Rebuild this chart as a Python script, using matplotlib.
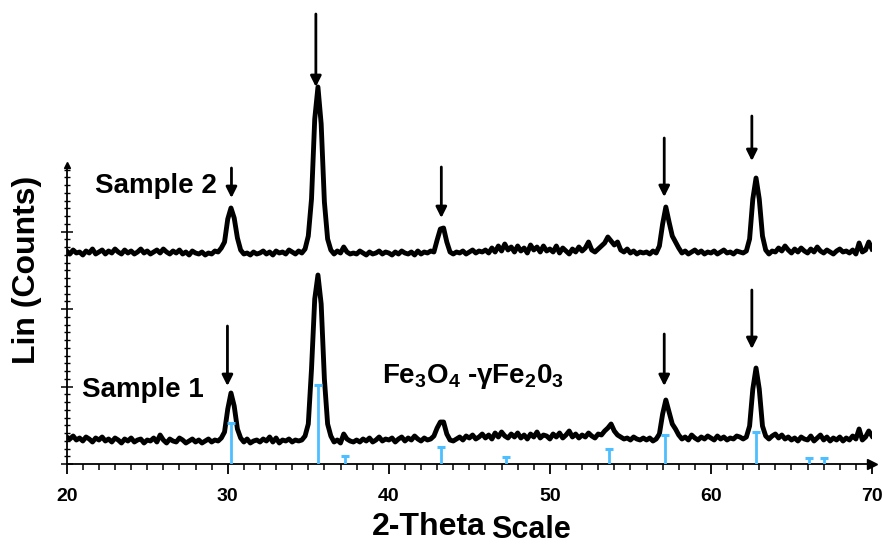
import numpy as np
import matplotlib
matplotlib.use("Agg")
from matplotlib import pyplot as plt

plt.rcParams['font.family'] = ['Liberation Sans', 'DejaVu Sans']
plt.rcParams['font.weight'] = 'bold'
plt.rcParams['mathtext.fontset'] = 'custom'
plt.rcParams['mathtext.rm'] = 'Liberation Sans:bold'
plt.rcParams['mathtext.it'] = 'Liberation Sans:bold'
plt.rcParams['mathtext.bf'] = 'Liberation Sans:bold'

# 2-theta grid, 0.2 deg steps from 20 to 70
two_theta = np.round(np.arange(20.0, 70.001, 0.2), 1)

# sample 1 (lower trace), counts
sample1 = [
    27, 25, 28, 24, 26, 23, 27, 25, 22, 26,
    24, 27, 23, 25, 22, 26, 24, 21, 25, 23,
    26, 22, 24, 25, 21, 24, 23, 26, 22, 29,
    24, 21, 25, 23, 22, 26, 24, 21, 23, 25,
    22, 24, 21, 23, 25, 22, 24, 23, 26, 32,
    55, 71, 58, 35, 26, 22, 25, 21, 23, 24,
    22, 25, 23, 27, 22, 26, 21, 24, 23, 25,
    22, 24, 23, 24, 28, 40, 95, 165, 189, 160,
    85, 40, 28, 22, 24, 21, 30, 25, 23, 22,
    24, 22, 25, 23, 26, 22, 24, 27, 23, 25,
    24, 26, 22, 25, 27, 23, 26, 24, 28, 25,
    23, 26, 24, 25, 28, 36, 42, 42, 30, 24,
    23, 25, 27, 24, 28, 26, 29, 25, 27, 30,
    26, 29, 25, 31, 27, 32, 28, 26, 30, 27,
    31, 26, 29, 25, 30, 27, 32, 26, 29, 28,
    25, 30, 27, 31, 26, 29, 33, 27, 30, 26,
    29, 27, 31, 28, 26, 30, 29, 33, 36, 40,
    33, 29, 27, 25, 26, 24, 27, 25, 24, 26,
    24, 26, 23, 25, 30, 50, 64, 52, 40, 35,
    29, 25, 27, 24, 29, 26, 24, 27, 25, 28,
    26, 24, 28, 25, 27, 24, 26, 25, 28, 27,
    25, 27, 38, 75, 96, 75, 38, 28, 25, 28,
    30, 26, 29, 25, 27, 24, 26, 23, 27, 25,
    24, 28, 23, 26, 29, 24, 27, 23, 26, 24,
    27, 23, 26, 24, 28, 25, 35, 24, 27, 33,
    28,
]

# sample 2 (upper trace), counts
sample2 = [
    213, 210, 214, 211, 212, 209, 213, 211, 215, 210,
    212, 214, 210, 213, 211, 215, 212, 210, 214, 211,
    213, 210, 212, 215, 211, 213, 210, 212, 214, 211,
    215, 212, 210, 213, 211, 214, 210, 212, 209, 213,
    211, 210, 212, 209, 211, 210, 213, 212, 216, 222,
    245, 256, 246, 226, 214, 210, 211, 209, 212, 210,
    211, 213, 210, 212, 209, 213, 211, 212, 210, 214,
    212, 210, 213, 211, 215, 228, 265, 345, 377, 340,
    262, 225, 214, 210, 213, 211, 217, 212, 210, 211,
    210, 213, 211, 209, 212, 210, 211, 213, 210, 212,
    211, 209, 212, 210, 213, 211, 210, 212, 209, 213,
    210, 212, 211, 213, 212, 224, 235, 236, 222, 212,
    210, 212, 211, 213, 210, 212, 214, 211, 213, 212,
    214, 211, 216, 212, 218, 213, 220, 214, 217, 212,
    218, 213, 216, 211, 219, 214, 217, 212, 218, 213,
    215, 212, 218, 211, 216, 213, 210, 215, 212, 217,
    213, 216, 222, 214, 212, 215, 218, 221, 227, 223,
    219, 222, 214, 212, 215, 211, 213, 210, 212, 211,
    212, 210, 213, 211, 218, 240, 257, 242, 228, 222,
    216, 211, 213, 210, 212, 214, 211, 213, 210, 212,
    211, 213, 210, 212, 214, 211, 212, 210, 213, 212,
    211, 213, 225, 265, 286, 265, 228, 214, 210, 213,
    212, 216, 213, 218, 214, 211, 215, 212, 216, 213,
    211, 215, 212, 217, 213, 211, 214, 212, 210, 213,
    215, 212, 213, 211, 214, 210, 221, 212, 214, 222,
    215,
]

# reference pattern sticks (Fe3O4 / gamma-Fe2O3)
ref_pos = [30.2, 35.6, 37.27, 43.26, 47.3, 53.64, 57.16, 62.79, 66.07, 67.05]
ref_int = [41, 79, 8, 17, 7, 15, 29, 32, 6, 6]

# marker arrows: (position, tail, tip)
arrow_pos = [30.23, 35.47, 43.26, 57.10, 62.54, 29.98, 57.10, 62.54]
arrow_tail = [296, 450, 297, 326, 348, 138, 130, 174]
arrow_tip = [266, 377, 246, 267, 303, 78, 78, 115]

fig = plt.figure(figsize=(8.83, 5.46), dpi=100)
ax = fig.add_axes([66.7 / 883, 82 / 546, (872 - 66.7) / 883, 464 / 546])

ax.plot(two_theta, sample1, color='black', lw=3.5, zorder=2)
ax.plot(two_theta, sample2, color='black', lw=3.5, zorder=2)

blue = '#4DBFFF'
ax.vlines(ref_pos, 0, ref_int, color=blue, lw=2.0, zorder=3)
ax.plot(ref_pos, ref_int, ls='none', marker='_', ms=6, mew=2.2, color=blue, zorder=3)

for xp, tl, tp in zip(arrow_pos, arrow_tail, arrow_tip):
    ax.annotate('', xy=(xp, tp), xytext=(xp, tl),
                arrowprops=dict(arrowstyle='-|>', color='black', lw=2.0,
                                mutation_scale=16, shrinkA=0, shrinkB=0))

ax.text(21.75, 271, 'Sample 2', fontsize=20, fontweight='bold', ha='left', va='baseline')
ax.text(20.95, 67, 'Sample 1', fontsize=20, fontweight='bold', ha='left', va='baseline')
ax.text(39.55, 81, r'Fe$_3$O$_4$ -$\gamma$Fe$_2$0$_3$', fontsize=20, ha='left', va='baseline')

ax.set_xlim(20, 70)
ax.set_ylim(0, 464)
ax.spines['top'].set_visible(False)
ax.spines['right'].set_visible(False)
ax.spines['left'].set_bounds(0, 299)
for s in ['left', 'bottom']:
    ax.spines[s].set_linewidth(1.3)

ax.set_xticks([20, 30, 40, 50, 60, 70])
ax.set_xticks(np.arange(20, 71, 1), minor=True)
ax.tick_params(axis='x', which='major', direction='out', length=7, width=1.3,
               labelsize=14, pad=10)
ax.tick_params(axis='x', which='minor', direction='out', length=4, width=1.1)
for lb in ax.get_xticklabels():
    lb.set_fontweight('bold')

ax.set_yticks([0, 77.5, 155, 232.5])
ax.set_yticks(np.arange(0, 299, 7.75), minor=True)
ax.tick_params(axis='y', which='major', direction='inout', length=8, width=1.1,
               labelleft=False)
ax.tick_params(axis='y', which='minor', direction='inout', length=5, width=1.0)

# axis arrowheads
ax.plot([1.0], [0], marker='>', ms=7, color='black', transform=ax.transAxes, clip_on=False)
ax.plot([0], [299 / 464], marker='^', ms=5, color='black',
        transform=ax.transAxes, clip_on=False)

fig.text(27 / 883, 1 - 270 / 546, 'Lin (Counts)', rotation=90, fontsize=23,
         fontweight='bold', ha='center', va='center')
fig.text(486 / 883, 1 - 535 / 546, '2-Theta', fontsize=23, fontweight='bold',
         ha='right', va='baseline')
fig.text(491 / 883, 1 - 538 / 546, 'Scale', fontsize=22, fontweight='bold',
         ha='left', va='baseline')

fig.savefig('out.png', dpi=100)
